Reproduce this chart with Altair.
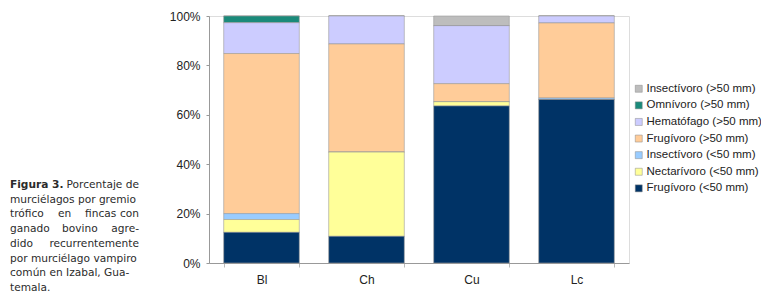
import altair as alt
import pandas as pd

fincas = ["Bl", "Ch", "Cu", "Lc"]
grupos = [
    "Insectívoro (>50 mm)",
    "Omnívoro (>50 mm)",
    "Hematófago (>50 mm)",
    "Frugívoro (>50 mm)",
    "Insectívoro (<50 mm)",
    "Nectarívoro (<50 mm)",
    "Frugívoro (<50 mm)",
]
colores = ["#bdbdbd", "#1a8a7a", "#ccccff", "#ffcc99", "#99ccff", "#ffff99", "#003366"]

# percent values per finca, in the order of `grupos`
valores = {
    "Bl": [0.0, 2.7, 12.5, 64.8, 2.4, 5.2, 12.4],
    "Ch": [0.0, 0.0, 11.3, 43.8, 0.0, 34.1, 10.8],
    "Cu": [3.9, 0.0, 23.5, 7.3, 0.0, 1.7, 63.6],
    "Lc": [0.0, 0.0, 2.8, 30.4, 0.6, 0.0, 66.2],
}

rows = []
for f in fincas:
    for i, g in enumerate(grupos):
        rows.append({"Finca": f, "Grupo": g, "Pct": valores[f][i] / 100.0, "orden": len(grupos) - i})
df = pd.DataFrame(rows)

FONT = "Arial"

bars = alt.Chart(df).mark_bar(stroke="#9a9a9a", strokeWidth=0.6).encode(
    x=alt.X("Finca:N", sort=fincas, title=None,
            scale=alt.Scale(paddingInner=0.28, paddingOuter=0.14),
            axis=alt.Axis(labelAngle=0, tickBand="extent", tickSize=4, labelPadding=7,
                          labelFont=FONT, labelFontSize=12, labelColor="#222",
                          domainColor="#999", tickColor="#bbb")),
    y=alt.Y("Pct:Q", stack="zero", title=None,
            scale=alt.Scale(domain=[0, 1], nice=False),
            axis=alt.Axis(format="%", values=[0, 0.2, 0.4, 0.6, 0.8, 1.0], grid=False,
                          tickSize=3, labelPadding=6, labelFont=FONT, labelFontSize=12,
                          labelColor="#222", domainColor="#999", tickColor="#999")),
    color=alt.Color("Grupo:N", sort=grupos,
                    scale=alt.Scale(domain=grupos, range=colores),
                    legend=alt.Legend(orient="none", legendX=424, legendY=67, title=None,
                                      symbolType="square", symbolSize=49, symbolStrokeWidth=0.5,
                                      symbolStrokeColor="#888", labelFont=FONT, labelFontSize=11.5,
                                      labelColor="#222", rowPadding=3.6, labelOffset=2,
                                      labelLimit=200, padding=0)),
    order=alt.Order("orden:Q"),
)

# caption (page coords converted relative to plot origin 209,16)
OX, OY = 209, 16
CAP_FONT = "DejaVu Sans"
CAP_SIZE = 10.6
line_y = [185, 199.5, 214, 229, 244, 258.5, 273, 287.5]
left_words = [
    ("murciélagos por gremio", 10, 1),
    ("trófico", 10, 2), ("en", 58, 2), ("fincas", 85, 2),
    ("ganado", 10, 3), ("bovino", 62, 3),
    ("dido", 10, 4),
    ("por murciélago vampiro", 10, 5),
    ("común en Izabal, Gua-", 10, 6),
    ("temala.", 10, 7),
]
right_words = [
    ("Porcentaje de", 139, 0),
    ("con", 139, 2),
    ("agre-", 139, 3),
    ("recurrentemente", 139, 4),
]

layers = [bars]
blank = alt.Data(values=[{}])
layers.append(alt.Chart(blank).mark_text(align="left", baseline="middle", font=CAP_FONT,
                                         fontSize=CAP_SIZE, fontWeight="bold", color="#2b2b2b").encode(
    x=alt.value(10 - OX), y=alt.value(line_y[0] - OY), text=alt.value("Figura 3.")))
for w, x, li in left_words:
    layers.append(alt.Chart(blank).mark_text(align="left", baseline="middle", font=CAP_FONT,
                                             fontSize=CAP_SIZE, color="#2b2b2b").encode(
        x=alt.value(x - OX), y=alt.value(line_y[li] - OY), text=alt.value(w)))
for w, x, li in right_words:
    layers.append(alt.Chart(blank).mark_text(align="right", baseline="middle", font=CAP_FONT,
                                             fontSize=CAP_SIZE, color="#2b2b2b").encode(
        x=alt.value(x - OX), y=alt.value(line_y[li] - OY), text=alt.value(w)))

chart = alt.layer(*layers).properties(
    width=420, height=247,
    autosize=alt.AutoSizeParams(type="none"),
    padding={"left": 201, "top": 8, "right": 132, "bottom": 30},
).configure_view(stroke="#aaa", strokeWidth=1).configure(background="white").configure_legend(
    labelFont=FONT, labelFontSize=11.5
)

chart.save("out.html", embed_options={"renderer": "svg", "actions": False})
